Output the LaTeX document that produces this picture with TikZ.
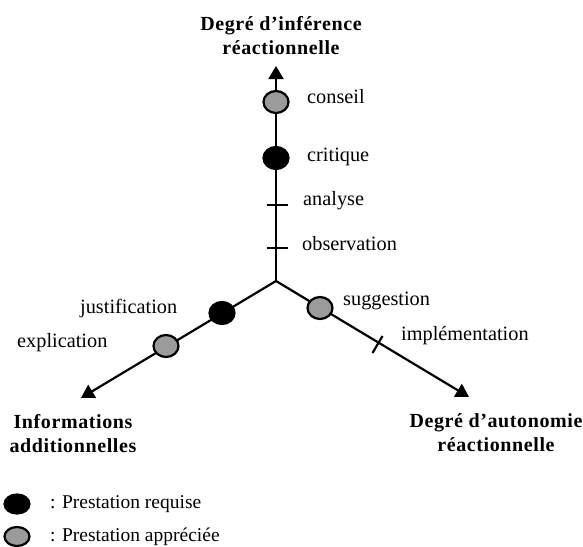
\documentclass[tikz,border=0pt]{standalone}
\usepackage{fontspec}
\setmainfont{Liberation Serif}
\newfontfamily\titlefont{Liberation Serif}[LetterSpace=3]
\usetikzlibrary{arrows.meta,shapes.geometric}
\definecolor{dotgray}{RGB}{155,155,155}
\begin{document}
\begin{tikzpicture}[x=1pt,y=-1pt,
  axisline/.style={line width=2.2pt,-{Triangle[length=13pt,width=15pt]}},
  req/.style={ellipse,draw=black,fill=black,line width=2.2pt,minimum width=25pt,minimum height=22pt,inner sep=0pt},
  app/.style={req,fill=dotgray},
  legreq/.style={req,minimum width=25pt,minimum height=19pt},
  legapp/.style={legreq,fill=dotgray},
  lbl/.style={font=\fontsize{20.3}{24}\selectfont,anchor=base west,inner sep=0pt},
  leglbl/.style={font=\fontsize{19.5}{23}\selectfont,anchor=base west,inner sep=0pt},
  ttl/.style={font=\titlefont\bfseries\fontsize{20}{24}\selectfont,anchor=base,inner sep=0pt},
  tickmark/.style={line width=2.2pt}]
\useasboundingbox (0,0) rectangle (583,546);

% axes
\coordinate (O) at (276,281);
\coordinate (T) at (276,66);
\coordinate (L) at (81,398);
\coordinate (R) at (469,397);
\draw[axisline] (O) -- (T);
\draw[axisline] (O) -- (L);
\draw[axisline] (O) -- (R);

% ticks
\coordinate (tA) at (277,205);
\coordinate (tO) at (277,248);
\coordinate (tI) at (377.5,344.5);
\draw[tickmark] ([xshift=-10.5pt]tA) -- ([xshift=10.5pt]tA);
\draw[tickmark] ([xshift=-10.5pt]tO) -- ([xshift=10.5pt]tO);
\draw[tickmark] ([xshift=5pt,yshift=8.5pt]tI) -- ([xshift=-5pt,yshift=-8.5pt]tI);

% dots
\node[app] (conseil) at (276,102) {};
\node[req] (critique) at (276,158) {};
\node[req] (justif) at (222,313) {};
\node[app] (explic) at (166,346) {};
\node[app] (sugg) at (320,308) {};

% labels
\node[lbl] (lconseil) at (307,103) {conseil};
\node[lbl] (lcritique) at (307,161) {critique};
\node[lbl] (lanalyse) at (303,205) {analyse};
\node[lbl] (lobs) at (302,250) {observation};
\node[lbl] (ljustif) at (80,313) {justification};
\node[lbl] (lexplic) at (17,347) {explication};
\node[lbl] (lsugg) at (343,305) {suggestion};
\node[lbl] (limpl) at (401,340) {implémentation};

% titles
\node[ttl] (t1a) at (281,30) {Degré d’inférence};
\node[ttl] (t1b) at (281,54) {réactionnelle};
\node[ttl] (t2a) at (73,428) {Informations};
\node[ttl] (t2b) at (73,452) {additionnelles};
\node[ttl] (t3a) at (496,427) {Degré d’autonomie};
\node[ttl] (t3b) at (496,451) {réactionnelle};

% legend
\node[legreq] (kreq) at (17,504) {};
\node[legapp] (kapp) at (17,536.5) {};
\node[leglbl] (lkreq) at (50,508) {: Prestation requise};
\node[leglbl] (lkapp) at (50,541) {: Prestation appréciée};
\end{tikzpicture}
\end{document}
